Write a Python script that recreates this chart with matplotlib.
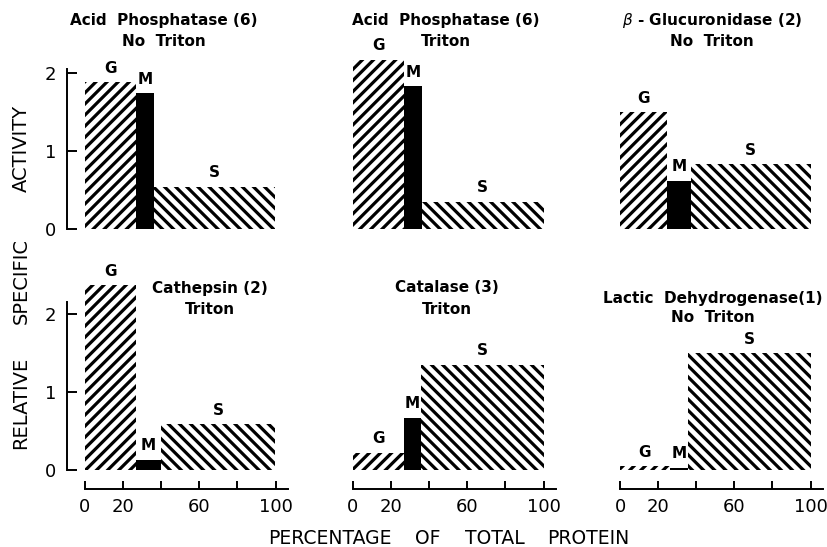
import matplotlib
matplotlib.use("Agg")
import matplotlib.pyplot as plt

plt.rcParams['font.family'] = ['DejaVu Sans']
plt.rcParams['hatch.linewidth'] = 2.3

# ---- data -------------------------------------------------------------
title_line1 = ["Acid  Phosphatase (6)", "Acid  Phosphatase (6)",
               "$\\beta$ - Glucuronidase (2)", "Cathepsin (2)",
               "Catalase (3)", "Lactic  Dehydrogenase(1)"]
title_line2 = ["No  Triton", "Triton", "No  Triton", "Triton", "Triton",
               "No  Triton"]
fractions = ["G", "M", "S"]
# cumulative percentage of total protein at the end of the G and M fractions
g_end = [26.8, 26.8, 24.7, 26.8, 26.8, 26.2]
m_end = [36.2, 36.2, 37.3, 39.9, 35.7, 35.7]
# relative specific activity
g_act = [1.88, 2.17, 1.50, 2.37, 0.22, 0.05]
m_act = [1.74, 1.83, 0.62, 0.13, 0.67, 0.03]
s_act = [0.54, 0.35, 0.83, 0.59, 1.35, 1.50]
x_ticks = [0, 20, 40, 60, 80, 100]
x_ticklabels = ["0", "20", "", "60", "", "100"]
y_ticks = [0, 1, 2]
y_ticklabels = ["0", "1", "2"]
ylabel_words = ["RELATIVE", "SPECIFIC", "ACTIVITY"]
xlabel_words = ["PERCENTAGE", "OF", "TOTAL", "PROTEIN"]

# ---- layout (pixels) --------------------------------------------------
W, H = 827, 547
fig = plt.figure(figsize=(W / 100, H / 100), dpi=100)

px_per_pct = 1.905
px_per_unit = 78.0
xmin, xmax = -9.4, 106.6
ymin, ymax = -0.24, 2.6
col_zero = [85, 353, 620]
row_zero = [229, 470]
title_x = [164, 446, 712, 210, 447, 713]
title_y1 = [21, 21, 21, 288, 288, 298]
title_y2 = [42, 42, 42, 309, 310, 318]
ylabel_pos = [403, 281, 148]
xlabel_pos = [330, 428, 495, 588]


def fx(px):
    return px / W


def fy(py):
    return 1 - py / H


for i in range(6):
    r, c = divmod(i, 3)
    left = col_zero[c] + xmin * px_per_pct
    width = (xmax - xmin) * px_per_pct
    bottom = row_zero[r] - ymin * px_per_unit
    height = (ymax - ymin) * px_per_unit
    ax = fig.add_axes([fx(left), fy(bottom), width / W, height / H])
    ax.set_xlim(xmin, xmax)
    ax.set_ylim(ymin, ymax)
    ax.patch.set_visible(False)

    lefts = [0, g_end[i], m_end[i]]
    widths = [g_end[i], m_end[i] - g_end[i], 100 - m_end[i]]
    heights = [g_act[i], m_act[i], s_act[i]]
    hatches = ["///", None, "\\\\\\"]
    faces = ["white", "black", "white"]
    for lf, wd, ht, hh, fc in zip(lefts, widths, heights, hatches, faces):
        ax.bar(lf, ht, wd, align="edge", color=fc, edgecolor="black",
               hatch=hh, linewidth=0)
    for lf, wd, ht, lab in zip(lefts, widths, heights, fractions):
        ax.annotate(lab, (lf + wd / 2, ht), xytext=(0, 10),
                    textcoords="offset points", ha="center", va="center",
                    fontsize=11, fontweight="bold", annotation_clip=False)

    for sp in ["top", "right"]:
        ax.spines[sp].set_visible(False)
    if c == 0:
        ax.spines["left"].set_linewidth(1.4)
        ax.spines["left"].set_bounds(0, 2.05 if r == 0 else 2.15)
        ax.set_yticks(y_ticks, labels=y_ticklabels)
        ax.tick_params(axis="y", direction="in", length=7, width=1.4,
                       pad=8, labelsize=13)
    else:
        ax.spines["left"].set_visible(False)
        ax.set_yticks([])
    if r == 1:
        ax.spines["bottom"].set_linewidth(1.4)
        ax.spines["bottom"].set_bounds(0, xmax)
        ax.set_xticks(x_ticks, labels=x_ticklabels)
        ax.tick_params(axis="x", direction="in", length=6, width=1.4,
                       pad=7, labelsize=13)
    else:
        ax.spines["bottom"].set_visible(False)
        ax.set_xticks([])

    fig.text(fx(title_x[i]), fy(title_y1[i]), title_line1[i], ha="center",
             va="center", fontsize=11, fontweight="bold")
    fig.text(fx(title_x[i]), fy(title_y2[i]), title_line2[i], ha="center",
             va="center", fontsize=11, fontweight="bold")

for word, yp in zip(ylabel_words, ylabel_pos):
    fig.text(fx(21), fy(yp), word, rotation=90, ha="center", va="center",
             fontsize=14)
for word, xp in zip(xlabel_words, xlabel_pos):
    fig.text(fx(xp), fy(539), word, ha="center", va="center", fontsize=13.5)

fig.savefig("out.png", dpi=100)
